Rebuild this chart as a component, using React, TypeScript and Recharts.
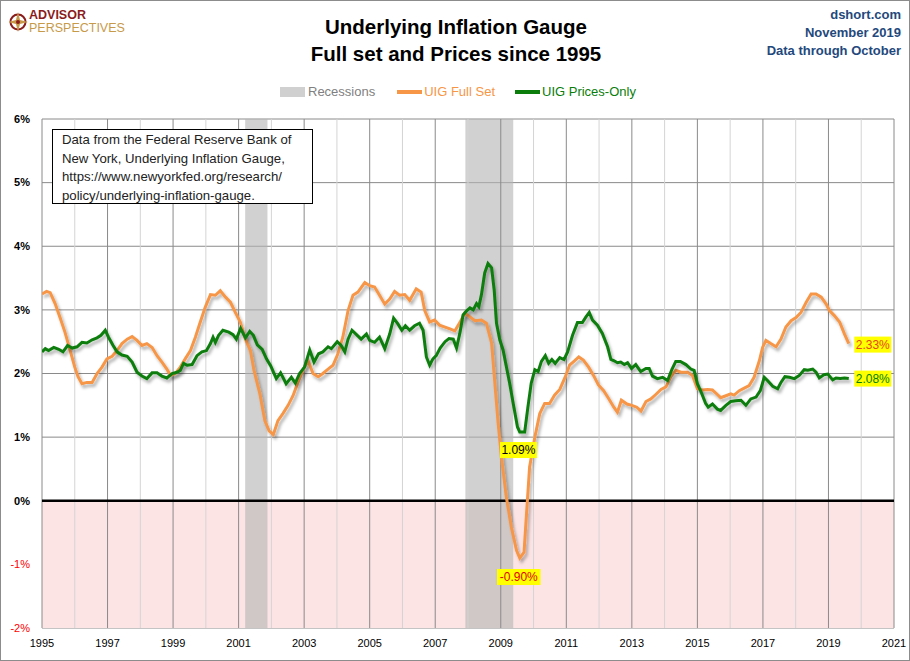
import React from 'react';
import {
    ComposedChart,
    Line,
    XAxis,
    YAxis,
    CartesianGrid,
    ReferenceArea,
    ReferenceLine,
    ReferenceDot,
} from 'recharts';

// UIG Full Set, [year, %]
const fullSet: [number, number][] = [
    [1995.0, 3.25], [1995.14, 3.29], [1995.25, 3.27], [1995.4, 3.1], [1995.55, 2.88], [1995.7, 2.65],
    [1995.86, 2.36], [1996.0, 2.1], [1996.1, 1.95], [1996.22, 1.84], [1996.37, 1.86], [1996.53, 1.86],
    [1996.68, 2.0], [1996.83, 2.1], [1996.98, 2.23], [1997.14, 2.27], [1997.29, 2.36], [1997.44, 2.47],
    [1997.6, 2.54], [1997.75, 2.58], [1997.9, 2.52], [1998.05, 2.44], [1998.2, 2.47], [1998.36, 2.41],
    [1998.51, 2.28], [1998.66, 2.18], [1998.81, 2.07], [1998.92, 1.97], [1999.07, 2.0], [1999.22, 2.1],
    [1999.37, 2.23], [1999.53, 2.36], [1999.68, 2.57], [1999.83, 2.81], [1999.98, 3.04], [2000.14, 3.24],
    [2000.29, 3.23], [2000.44, 3.3], [2000.6, 3.2], [2000.75, 3.12], [2000.9, 2.96], [2001.05, 2.81],
    [2001.2, 2.55], [2001.36, 2.36], [2001.47, 2.05], [2001.65, 1.68], [2001.8, 1.26], [2001.93, 1.1],
    [2002.06, 1.04], [2002.2, 1.26], [2002.35, 1.37], [2002.51, 1.5], [2002.66, 1.65], [2002.81, 1.86],
    [2002.96, 2.05], [2003.12, 2.2], [2003.27, 2.0], [2003.43, 1.95], [2003.57, 2.0], [2003.73, 2.07],
    [2003.88, 2.13], [2004.03, 2.31], [2004.18, 2.57], [2004.34, 2.99], [2004.49, 3.23], [2004.64, 3.28],
    [2004.85, 3.43], [2005.0, 3.38], [2005.15, 3.36], [2005.3, 3.23], [2005.46, 3.09], [2005.61, 3.17],
    [2005.76, 3.29], [2005.91, 3.23], [2006.07, 3.24], [2006.22, 3.15], [2006.42, 3.33], [2006.57, 3.28],
    [2006.68, 2.99], [2006.83, 2.81], [2006.98, 2.84], [2007.13, 2.76], [2007.3, 2.73], [2007.45, 2.7],
    [2007.6, 2.67], [2007.75, 2.8], [2007.9, 2.95], [2008.06, 2.89], [2008.21, 2.83], [2008.41, 2.84],
    [2008.56, 2.79], [2008.72, 2.48], [2008.82, 1.85], [2008.92, 1.22], [2009.02, 0.69], [2009.17, 0.06],
    [2009.32, -0.41], [2009.48, -0.78], [2009.58, -0.9], [2009.71, -0.81], [2009.78, -0.25], [2009.88, 0.53],
    [2010.04, 1.0], [2010.19, 1.37], [2010.34, 1.53], [2010.49, 1.53], [2010.64, 1.66], [2010.8, 1.75],
    [2010.97, 1.95], [2011.1, 2.13], [2011.25, 2.2], [2011.38, 2.26], [2011.52, 2.21], [2011.68, 2.1],
    [2011.83, 1.97], [2011.98, 1.82], [2012.14, 1.73], [2012.3, 1.6], [2012.45, 1.47], [2012.56, 1.39],
    [2012.68, 1.58], [2012.85, 1.52], [2013.0, 1.5], [2013.15, 1.47], [2013.28, 1.41], [2013.43, 1.56],
    [2013.58, 1.6], [2013.73, 1.67], [2013.89, 1.75], [2014.04, 1.79], [2014.19, 1.95], [2014.34, 2.05],
    [2014.5, 2.02], [2014.7, 2.02], [2014.85, 1.97], [2015.0, 1.76], [2015.15, 1.74], [2015.31, 1.75],
    [2015.46, 1.74], [2015.61, 1.67], [2015.71, 1.62], [2015.87, 1.65], [2016.02, 1.68], [2016.12, 1.66],
    [2016.28, 1.73], [2016.43, 1.77], [2016.58, 1.81], [2016.73, 1.94], [2016.89, 2.2], [2016.99, 2.41],
    [2017.09, 2.52], [2017.24, 2.47], [2017.4, 2.42], [2017.55, 2.54], [2017.7, 2.73], [2017.86, 2.83],
    [2018.01, 2.88], [2018.16, 2.96], [2018.32, 3.12], [2018.47, 3.25], [2018.62, 3.25], [2018.78, 3.2],
    [2018.93, 3.09], [2019.03, 2.99], [2019.18, 2.91], [2019.34, 2.81], [2019.49, 2.62], [2019.62, 2.47],
];

// UIG Prices-Only, [year, %]
const pricesOnly: [number, number][] = [
    [1995.0, 2.34], [1995.1, 2.39], [1995.2, 2.36], [1995.36, 2.41], [1995.51, 2.38], [1995.64, 2.34],
    [1995.78, 2.44], [1995.92, 2.4], [1996.07, 2.42], [1996.22, 2.49], [1996.37, 2.48], [1996.53, 2.53],
    [1996.68, 2.56], [1996.8, 2.6], [1996.93, 2.68], [1997.03, 2.57], [1997.17, 2.44], [1997.29, 2.34],
    [1997.44, 2.29], [1997.6, 2.27], [1997.75, 2.18], [1997.9, 2.02], [1998.05, 1.96], [1998.2, 1.92],
    [1998.36, 2.01], [1998.51, 2.01], [1998.66, 1.96], [1998.81, 1.93], [1998.97, 2.0], [1999.12, 2.02],
    [1999.22, 2.05], [1999.32, 2.16], [1999.43, 2.13], [1999.58, 2.14], [1999.73, 2.28], [1999.88, 2.34],
    [2000.02, 2.36], [2000.14, 2.47], [2000.22, 2.57], [2000.29, 2.49], [2000.39, 2.6], [2000.52, 2.68],
    [2000.7, 2.65], [2000.83, 2.61], [2000.93, 2.54], [2001.06, 2.71], [2001.21, 2.56], [2001.34, 2.66],
    [2001.45, 2.6], [2001.57, 2.45], [2001.72, 2.38], [2001.85, 2.23], [2001.98, 2.12], [2002.15, 1.92],
    [2002.28, 2.01], [2002.45, 1.84], [2002.61, 1.94], [2002.73, 1.85], [2002.86, 2.0], [2003.01, 2.1],
    [2003.17, 2.37], [2003.3, 2.18], [2003.44, 2.31], [2003.57, 2.34], [2003.73, 2.42], [2003.83, 2.39],
    [2004.01, 2.5], [2004.13, 2.44], [2004.24, 2.34], [2004.34, 2.54], [2004.46, 2.68], [2004.62, 2.6],
    [2004.74, 2.54], [2004.9, 2.62], [2005.0, 2.52], [2005.15, 2.49], [2005.3, 2.57], [2005.46, 2.39],
    [2005.61, 2.62], [2005.73, 2.87], [2005.86, 2.78], [2005.98, 2.68], [2006.09, 2.75], [2006.22, 2.68],
    [2006.37, 2.75], [2006.52, 2.79], [2006.63, 2.68], [2006.73, 2.26], [2006.83, 2.13], [2006.93, 2.23],
    [2007.03, 2.28], [2007.15, 2.4], [2007.3, 2.5], [2007.42, 2.55], [2007.55, 2.54], [2007.65, 2.4],
    [2007.75, 2.63], [2007.85, 2.92], [2007.95, 2.98], [2008.06, 3.03], [2008.16, 3.0], [2008.26, 3.1],
    [2008.33, 3.05], [2008.41, 3.24], [2008.51, 3.58], [2008.61, 3.73], [2008.72, 3.66], [2008.8, 3.31],
    [2008.87, 2.79], [2008.97, 2.53], [2009.07, 2.37], [2009.17, 2.11], [2009.27, 1.85], [2009.38, 1.53],
    [2009.51, 1.16], [2009.58, 1.08], [2009.73, 1.08], [2009.83, 1.48], [2009.93, 1.85], [2010.04, 2.06],
    [2010.14, 2.03], [2010.24, 2.19], [2010.36, 2.28], [2010.46, 2.16], [2010.56, 2.22], [2010.66, 2.16],
    [2010.8, 2.25], [2010.93, 2.22], [2011.04, 2.34], [2011.19, 2.6], [2011.34, 2.8], [2011.49, 2.8],
    [2011.6, 2.89], [2011.7, 2.96], [2011.8, 2.84], [2011.95, 2.76], [2012.1, 2.63], [2012.26, 2.42],
    [2012.36, 2.22], [2012.46, 2.2], [2012.56, 2.17], [2012.66, 2.18], [2012.77, 2.14], [2012.87, 2.17],
    [2012.99, 2.08], [2013.12, 2.14], [2013.27, 2.03], [2013.43, 2.08], [2013.53, 2.08], [2013.63, 1.96],
    [2013.78, 1.92], [2013.94, 1.94], [2014.09, 1.89], [2014.22, 2.06], [2014.34, 2.19], [2014.48, 2.19],
    [2014.65, 2.14], [2014.8, 2.07], [2014.9, 2.05], [2015.0, 1.84], [2015.13, 1.69], [2015.25, 1.53],
    [2015.33, 1.47], [2015.46, 1.52], [2015.61, 1.44], [2015.71, 1.42], [2015.87, 1.5], [2016.02, 1.56],
    [2016.17, 1.57], [2016.33, 1.58], [2016.48, 1.5], [2016.63, 1.6], [2016.79, 1.63], [2016.92, 1.73],
    [2017.04, 1.94], [2017.14, 1.89], [2017.3, 1.8], [2017.45, 1.76], [2017.55, 1.86], [2017.67, 1.95],
    [2017.81, 1.94], [2017.96, 1.92], [2018.11, 1.97], [2018.26, 2.06], [2018.37, 2.05], [2018.52, 2.07],
    [2018.62, 2.02], [2018.72, 1.93], [2018.86, 1.98], [2018.98, 1.99], [2019.13, 1.9], [2019.23, 1.93],
    [2019.36, 1.92], [2019.49, 1.93], [2019.62, 1.92],
];

const recessions: [number, number][] = [
    [2001.2, 2001.88],
    [2007.92, 2009.38],
];

const yearTicks = [1995, 1997, 1999, 2001, 2003, 2005, 2007, 2009, 2011, 2013, 2015, 2017, 2019, 2021];
const allYears = Array.from({ length: 27 }, (_, i) => 1995 + i);
const pctTicks = [-2, -1, 0, 1, 2, 3, 4, 5, 6];

// annotation: [x, y, text, colour, dx, dy]
const callouts: [number, number, string, string, number, number][] = [
    [2019.62, 2.47, '2.33%', '#e8461e', 24, 1],
    [2019.62, 1.92, '2.08%', '#008000', 24, 0],
    [2009.6, 1.08, '1.09%', '#000000', -2, 18],
    [2009.58, -0.9, '-0.90%', '#e00000', -1, 19],
];

const ORANGE = '#f79646';
const GREEN = '#0a7d0a';
const SANS = '"Liberation Sans", Arial, sans-serif';

const fullSetData = fullSet.map(([t, v]) => ({ t, v }));
const pricesData = pricesOnly.map(([t, v]) => ({ t, v }));

function YTick({ x, y, payload }: any) {
    const neg = payload.value < 0;
    return (
        <text
            x={x}
            y={y}
            dy="0.35em"
            textAnchor="end"
            fontFamily={SANS}
            fontSize={11}
            fontWeight={neg ? 400 : 700}
            fill={neg ? '#ff0000' : '#000'}
        >
            {payload.value}%
        </text>
    );
}

function XTick({ x, y, payload }: any) {
    return (
        <text x={x} y={y} dy="0.71em" textAnchor="middle" fontFamily={SANS} fontSize={11} fill="#000">
            {payload.value}
        </text>
    );
}

function calloutShape(text: string, color: string, dx: number, dy: number) {
    return (p: any) => {
        const w = text.length * 6.6 + 4;
        const cx = p.cx + dx;
        const cy = p.cy + dy;
        return (
            <g>
                <rect x={cx - w / 2} y={cy - 8} width={w} height={16} fill="#ffff00" />
                <text
                    x={cx}
                    y={cy}
                    dy="0.35em"
                    textAnchor="middle"
                    fontFamily={SANS}
                    fontSize={12}
                    fill={color}
                >
                    {text}
                </text>
            </g>
        );
    };
}

export default function App() {
    return (
        <div
            style={{
                position: 'absolute',
                left: 0,
                top: 0,
                width: 910,
                height: 661,
                boxSizing: 'border-box',
                border: '1px solid #8c8c8c',
                background: '#fff',
                overflow: 'hidden',
            }}
        >
            {/* logo */}
            <svg style={{ position: 'absolute', left: 8, top: 10 }} width={20} height={22}>
                <circle cx={9} cy={11} r={7.5} fill="none" stroke="#8b1c1c" strokeWidth={2} />
                <path d="M9 1 L11 9 L19 11 L11 13 L9 21 L7 13 L-1 11 L7 9 Z" fill="#c79a4a" />
                <circle cx={9} cy={11} r={2} fill="#8b1c1c" />
            </svg>
            <div
                style={{
                    position: 'absolute',
                    left: 28,
                    top: 8,
                    fontFamily: SANS,
                    fontSize: 12.5,
                    lineHeight: '13px',
                }}
            >
                <span style={{ color: '#8b1c1c', fontWeight: 700 }}>ADVISOR</span>
                <br />
                <span style={{ color: '#c79a4a' }}>PERSPECTIVES</span>
            </div>

            {/* title */}
            <div
                style={{
                    position: 'absolute',
                    left: 0,
                    width: 910,
                    top: 12,
                    textAlign: 'center',
                    fontFamily: SANS,
                    fontWeight: 700,
                    fontSize: 20.5,
                    lineHeight: '27px',
                    color: '#000',
                }}
            >
                Underlying Inflation Gauge
                <br />
                Full set and Prices since 1995
            </div>

            {/* source info */}
            <div
                style={{
                    position: 'absolute',
                    right: 8,
                    top: 5,
                    textAlign: 'right',
                    fontFamily: SANS,
                    fontWeight: 700,
                    fontSize: 13,
                    lineHeight: '18px',
                    color: '#1f497d',
                }}
            >
                dshort.com
                <br />
                November 2019
                <br />
                Data through October
            </div>

            {/* legend */}
            <div
                style={{
                    position: 'absolute',
                    left: 279,
                    top: 83,
                    display: 'flex',
                    alignItems: 'center',
                    fontFamily: SANS,
                    fontSize: 13,
                    lineHeight: '16px',
                }}
            >
                <span style={{ width: 25, height: 10, background: '#d0d0d0', marginRight: 3 }} />
                <span style={{ color: '#808080', marginRight: 22 }}>Recessions</span>
                <span style={{ width: 25, height: 4, background: ORANGE, marginRight: 2 }} />
                <span style={{ color: ORANGE, marginRight: 20 }}>UIG Full Set</span>
                <span style={{ width: 25, height: 4, background: GREEN, marginRight: 2 }} />
                <span style={{ color: GREEN }}>UIG Prices-Only</span>
            </div>

            {/* source note */}
            <div
                style={{
                    position: 'absolute',
                    left: 51,
                    top: 128,
                    width: 261,
                    height: 75,
                    boxSizing: 'border-box',
                    border: '1px solid #000',
                    background: '#fff',
                    padding: '1px 0 0 9px',
                    fontFamily: SANS,
                    fontSize: 13.2,
                    lineHeight: '18.5px',
                    color: '#222',
                    zIndex: 2,
                    whiteSpace: 'nowrap',
                }}
            >
                Data from the Federal Reserve Bank of
                <br />
                New York, Underlying Inflation Gauge,
                <br />
                https://www.newyorkfed.org/research/
                <br />
                policy/underlying-inflation-gauge.
            </div>

            <div style={{ position: 'absolute', left: -1, top: -1 }}>
                <ComposedChart width={910} height={661} margin={{ top: 119, right: 16, bottom: 0, left: 0 }}>
                    <defs>
                        <filter id="lineShadow" x="-5%" y="-5%" width="110%" height="120%">
                            <feDropShadow dx={2} dy={3} stdDeviation={1.5} floodColor="#000" floodOpacity={0.3} />
                        </filter>
                    </defs>
                    <XAxis
                        dataKey="t"
                        type="number"
                        domain={[1995, 2021]}
                        ticks={yearTicks}
                        axisLine={false}
                        tickLine={false}
                        tickMargin={5}
                        height={33}
                        tick={<XTick />}
                        allowDataOverflow
                    />
                    <YAxis
                        type="number"
                        domain={[-2, 6]}
                        ticks={pctTicks}
                        axisLine={false}
                        tickLine={false}
                        tickMargin={6}
                        width={42}
                        tick={<YTick />}
                        allowDataOverflow
                    />
                    <ReferenceArea y1={-2} y2={0} fill="#fde4e4" fillOpacity={1} stroke="none" />
                    {recessions.map(([a, b]) => (
                        <ReferenceArea key={a} x1={a} x2={b} fill="#b5b5b5" fillOpacity={0.62} stroke="none" />
                    ))}
                    <CartesianGrid vertical={false} stroke="#8a8a8a" strokeWidth={1} />
                    {allYears.map((yr) => (
                        <ReferenceLine
                            key={yr}
                            x={yr}
                            stroke={yr % 2 === 1 ? '#8a8a8a' : '#d4d4d4'}
                            strokeWidth={1}
                        />
                    ))}
                    <ReferenceLine y={0} stroke="#000" strokeWidth={2.5} />
                    <Line
                        data={fullSetData}
                        dataKey="v"
                        type="linear"
                        stroke={ORANGE}
                        strokeWidth={3}
                        dot={false}
                        filter="url(#lineShadow)"
                        isAnimationActive={false}
                    />
                    <Line
                        data={pricesData}
                        dataKey="v"
                        type="linear"
                        stroke={GREEN}
                        strokeWidth={3}
                        dot={false}
                        filter="url(#lineShadow)"
                        isAnimationActive={false}
                    />
                    {callouts.map(([x, y, text, color, dx, dy]) => (
                        <ReferenceDot
                            key={text}
                            x={x}
                            y={y}
                            r={0}
                            shape={calloutShape(text, color, dx, dy)}
                        />
                    ))}
                </ComposedChart>
            </div>
        </div>
    );
}
